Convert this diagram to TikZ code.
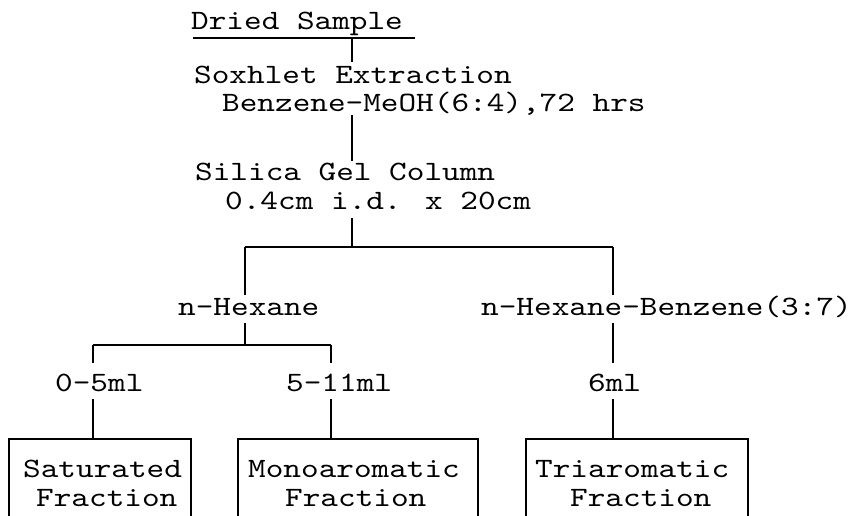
\documentclass[tikz,border=0pt]{standalone}
\usepackage{fontspec}
\newfontfamily\tw[FakeStretch=1.2]{lmmono10-regular.otf}
\tikzset{
  txt/.style={font={\fontsize{28pt}{29pt}\selectfont\tw}, inner xsep=0pt, inner ysep=3pt,
    text height=17pt, text depth=5pt, anchor=base west},
  toptxt/.style={txt, text depth=0pt},
  mltxt/.style={txt, text height=25pt},
  fracbox/.style={draw, line width=1.5pt, inner sep=0pt, minimum height=140pt, anchor=north west},
  conn/.style={line width=1.5pt}
}
\begin{document}
\begin{tikzpicture}[x=1pt,y=-1pt]
\useasboundingbox (0,0) rectangle (855,516);
\fill[white] (0,0) rectangle (855,516);
\clip (0,0) rectangle (855,516);
% text nodes
\node[txt] (dried) at (191,30) {Dried Sample};
\node[toptxt, text height=19pt] (sox1) at (194,84) {Soxhlet Extraction};
\node[txt, text height=14pt, text depth=0pt] (sox2) at (222,112) {Benzene-MeOH(6:4),72 hrs};
\node[toptxt] (sil1) at (195,181) {Silica Gel Column};
\node[txt, text height=14pt] (sil2) at (225,210) {0.4cm i.d. x 20cm};
\node[txt] (nhex) at (178,315) {n-Hexane};
\node[txt] (nhb) at (481,315) {n-Hexane-Benzene(3:7)};
\node[mltxt] (ml05) at (55,391) {0-5ml};
\node[mltxt] (ml511) at (286,391) {5-11ml};
\node[mltxt] (ml6) at (588,391) {6ml};
% boxes
\node[fracbox, minimum width=182pt] (satbox) at (8,438) {};
\node[fracbox, minimum width=240pt] (monobox) at (237,438) {};
\node[fracbox, minimum width=222pt] (tribox) at (525,438) {};
\node[toptxt] (sat1) at (23,477) {Saturated};
\node[txt, text height=14pt] (sat2) at (36,506) {Fraction};
\node[toptxt] (mono1) at (248,477) {Monoaromatic};
\node[txt, text height=14pt] (mono2) at (285,506) {Fraction};
\node[toptxt] (tri1) at (535,477) {Triaromatic};
\node[txt, text height=14pt] (tri2) at (570,506) {Fraction};
% junction coordinates
\coordinate (ul) at (352,38);
\coordinate (bar) at (352,247);
\coordinate (bl) at (245,247);
\coordinate (br) at (613,247);
\coordinate (hj) at (245,345);
\coordinate (hl) at (93,345);
\coordinate (hr) at (331,345);
% underline
\draw[conn] ([yshift=-8pt, xshift=2pt]dried.base west) -- ([yshift=-8pt, xshift=224pt]dried.base west);
% connectors
\draw[conn] (ul) -- (sox1.north -| ul);
\draw[conn] (sox2.south -| ul) -- (sil1.north -| ul);
\draw[conn] (sil2.south -| ul) -- (bar);
\draw[conn] (bl) -- (br);
\draw[conn] (bl) -- (nhex.north -| bl);
\draw[conn] (br) -- (nhb.north -| br);
\draw[conn] (nhex.south -| hj) -- (hj);
\draw[conn] (hl) -- (hr);
\draw[conn] (hl) -- (ml05.north -| hl);
\draw[conn] (hr) -- (ml511.north -| hr);
\draw[conn] (nhb.south -| br) -- (ml6.north -| br);
\draw[conn] (ml05.south -| hl) -- (satbox.north -| hl);
\draw[conn] (ml511.south -| hr) -- (monobox.north -| hr);
\draw[conn] (ml6.south -| br) -- (tribox.north -| br);
\end{tikzpicture}
\end{document}
